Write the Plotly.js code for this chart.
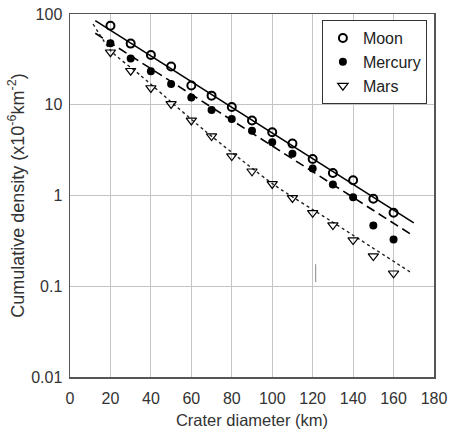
<!DOCTYPE html>
<html>
<head>
<meta charset="utf-8">
<script src="https://cdn.plot.ly/plotly-3.0.1.min.js"></script>
<style>html,body{margin:0;padding:0;background:#fff;}#chart{width:452px;height:434px;}</style>
</head>
<body>
<div id="chart"></div>
<script>
var diameters = [20, 30, 40, 50, 60, 70, 80, 90, 100, 110, 120, 130, 140, 150, 160];
var moon    = [74.3, 47.2, 35.4, 26.4, 16.3, 12.6, 9.44, 6.72, 4.97, 3.73, 2.53, 1.77, 1.47, 0.92, 0.645];
var mercury = [47.6, 32.3, 23.4, 16.9, 12.0, 8.75, 6.97, 5.18, 3.85, 2.89, 1.98, 1.32, 0.957, 0.468, 0.328];
var mars    = [37.9, 23.7, 15.3, 10.2, 6.72, 4.51, 2.72, 1.85, 1.34, 0.94, 0.645, 0.472, 0.323, 0.215, 0.139];

var moonFitX = [12.5, 170];
var moonFit = [84.4, 0.50];
var mercuryFitX = [12.5, 170];
var mercuryFit = [61.4, 0.357];
var marsFitX = [11.4, 20.3, 34.6, 66.8, 100.9, 128.6, 168.1];
var marsFit = [77.6, 39.1, 21.3, 5.14, 1.31, 0.531, 0.144];

var strayX = [121.5, 121.5];
var strayY = [0.111, 0.175];

var yTickVals = [0.01, 0.1, 1, 10, 100];
var yTickText = ['0.01', '0.1', '1', '10', '100'];
var xTickVals = [0, 20, 40, 60, 80, 100, 120, 140, 160, 180];

var traces = [
  {x: moonFitX, y: moonFit, mode: 'lines', line: {color: '#000', width: 1.6}, showlegend: false, hoverinfo: 'skip'},
  {x: mercuryFitX, y: mercuryFit, mode: 'lines', line: {color: '#000', width: 1.6, dash: '9px,5px'}, showlegend: false, hoverinfo: 'skip'},
  {x: marsFitX, y: marsFit, mode: 'lines', line: {color: '#222', width: 1.4, dash: 'dot', shape: 'spline', smoothing: 0.6}, showlegend: false, hoverinfo: 'skip'},
  {x: strayX, y: strayY, mode: 'lines', line: {color: '#888', width: 1}, showlegend: false, hoverinfo: 'skip'},
  {x: diameters, y: moon, name: 'Moon', mode: 'markers',
   marker: {symbol: 'circle-open', size: 8, color: '#000', line: {width: 2, color: '#000'}}},
  {x: diameters, y: mercury, name: 'Mercury', mode: 'markers',
   marker: {symbol: 'circle', size: 8, color: '#000'}},
  {x: diameters, y: mars, name: 'Mars', mode: 'markers',
   marker: {symbol: 'triangle-down-open', size: 9, color: '#000', line: {width: 1.2, color: '#000'}}}
];

var layout = {
  width: 452, height: 434,
  margin: {l: 70, r: 18, t: 14, b: 57},
  paper_bgcolor: '#fff', plot_bgcolor: '#fff',
  font: {family: 'Liberation Sans, Arial, sans-serif', color: '#333', size: 16},
  showlegend: true,
  legend: {x: 0.692, y: 0.983, xanchor: 'left', yanchor: 'top',
           bordercolor: '#333', borderwidth: 1, bgcolor: '#fff',
           font: {size: 16, color: '#222'}, itemwidth: 30, tracegroupgap: 0},
  xaxis: {
    range: [0, 180], tickvals: xTickVals, showgrid: true, gridcolor: '#c4c4c4', gridwidth: 1,
    showline: true, linecolor: '#555', linewidth: 1.5, mirror: true, zeroline: false,
    ticks: '', ticklabelstandoff: 6, tickfont: {size: 16, color: '#333'},
    title: {text: 'Crater diameter (km)', font: {size: 16.5, color: '#333'}, standoff: 8}
  },
  yaxis: {
    type: 'log', range: [-2, 2], tickvals: yTickVals, ticktext: yTickText,
    showgrid: true, gridcolor: '#c4c4c4', gridwidth: 1,
    showline: true, linecolor: '#555', linewidth: 1.5, mirror: true, zeroline: false,
    ticks: '', ticklabelstandoff: 3, tickfont: {size: 16, color: '#333'},
    title: {text: 'Cumulative density (x10<sup>-6</sup>km<sup>-2</sup>)', font: {size: 18, color: '#333'}, standoff: 2}
  }
};

Plotly.newPlot('chart', traces, layout, {displayModeBar: false, staticPlot: true});
</script>
</body>
</html>
